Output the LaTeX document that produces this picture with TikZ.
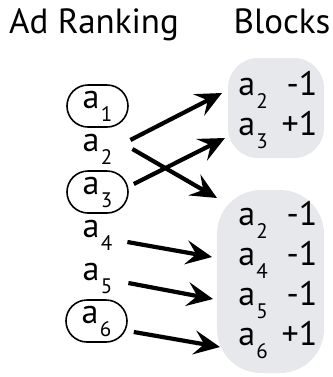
\documentclass[tikz,border=0pt]{standalone}
\usepackage{fontspec}
\setmainfont{PT Sans}
\usetikzlibrary{arrows.meta}

\definecolor{blockgray}{RGB}{231,232,236}
\newcommand{\ad}[1]{a\kern0.6pt\raisebox{-6.5pt}{\fontsize{10.5}{11}\selectfont #1}}
\newcommand{\blockrow}[2]{\makebox[39.5pt]{\ad{#1}\hfill #2}}

\tikzset{
  title/.style={anchor=base, font=\fontsize{17.5}{19}\selectfont},
  adtext/.style={minimum width=30.5pt, minimum height=21pt, inner sep=0pt,
    font=\fontsize{17}{18}\selectfont},
  adoval/.style={adtext, draw, line width=0.8pt, rounded corners=10.5pt},
  rowtext/.style={inner sep=0pt, font=\fontsize{17}{18}\selectfont},
  blockbg/.style={fill=blockgray},
  move/.style={line width=2.1pt, -{Stealth[length=13pt, width=12pt, inset=5pt]}}
}

\begin{document}
\begin{tikzpicture}[x=0.5pt, y=-0.5pt]
\useasboundingbox (0, 0) rectangle (333, 377);

% headings
\node[title] (rank) at (94, 33) {Ad Ranking};
\node[title] (blocks) at (282, 33) {Blocks};

% block backgrounds
\fill[blockbg, rounded corners=15pt] (228, 58) rectangle (324, 158);
\fill[blockbg, rounded corners=22pt] (217, 190) rectangle (324, 373);

% ranking
\node[adoval] (a1) at (97.5, 106) {\ad{1}};
\node[adtext] (a2) at (97.5, 149) {\ad{2}};
\node[adoval] (a3) at (97.5, 192) {\ad{3}};
\node[adtext] (a4) at (97.5, 235) {\ad{4}};
\node[adtext] (a5) at (97.5, 278) {\ad{5}};
\node[adoval] (a6) at (96.5, 321) {\ad{6}};

% block rows
\node[rowtext, anchor=west] (b1r1) at (238, 90) {\blockrow{2}{-1}};
\node[rowtext, anchor=west] (b1r2) at (238, 130) {\blockrow{3}{+1}};

\node[rowtext, anchor=west] (b2r1) at (238, 220) {\blockrow{2}{-1}};
\node[rowtext, anchor=west] (b2r2) at (238, 260) {\blockrow{4}{-1}};
\node[rowtext, anchor=west] (b2r3) at (238, 300) {\blockrow{5}{-1}};
\node[rowtext, anchor=west] (b2r4) at (238, 340) {\blockrow{6}{+1}};

% moves
\draw[move] ([xshift=1pt, yshift=4.5pt]a2.east) -- ([xshift=-8pt, yshift=-1.5pt]b1r1.west);
\draw[move] ([xshift=2pt]a2.east) -- ([xshift=-10.5pt, yshift=11pt]b2r1.west);
\draw[move] ([xshift=2.5pt, yshift=4pt]a3.east) -- ([xshift=-6.5pt, yshift=-4pt]b1r2.west);
\draw[move] ([xshift=-0.5pt, yshift=-3.5pt]a4.east) -- ([xshift=-13pt, yshift=1.5pt]b2r2.west);
\draw[move] ([yshift=-2.5pt]a5.east) -- ([xshift=-12.5pt, yshift=0.5pt]b2r3.west);
\draw[move] ([xshift=3pt, yshift=-5.5pt]a6.east) -- ([xshift=-9pt, yshift=-3.5pt]b2r4.west);
\end{tikzpicture}
\end{document}
